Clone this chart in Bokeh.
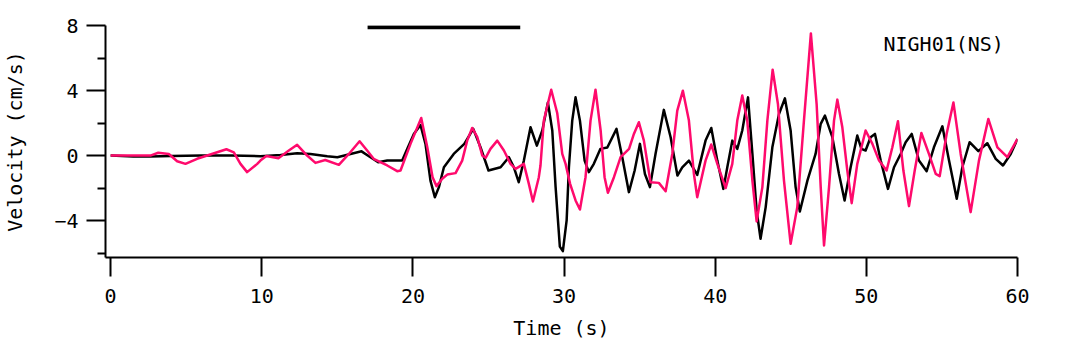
from bokeh.plotting import figure
from bokeh.models import Range1d, FixedTicker, Label
from bokeh.embed import file_html
from bokeh.resources import INLINE

# ---- data ----
black_t = [0, 1.5, 2.6, 4, 6, 8, 9.91, 11.24, 12.34, 13.22, 14.33, 15.0, 15.87, 16.6, 17.19,
           17.7, 18.3, 19.29, 19.62, 20.06, 20.5, 20.83, 21.16, 21.45, 21.72, 22.05, 22.7,
           23.4, 23.99, 24.47, 25.0, 25.8, 26.35, 26.68, 27.0, 27.34, 27.78, 28.2, 28.56,
           28.93, 29.22, 29.44, 29.72, 29.92, 30.17, 30.32, 30.54, 30.76, 31.05, 31.36,
           31.64, 31.97, 32.4, 32.86, 33.47, 33.85, 34.29, 34.67, 35.02, 35.35, 35.68,
           36.05, 36.6, 37.05, 37.5, 37.82, 38.26, 38.81, 39.36, 39.74, 40.14, 40.54, 40.8,
           41.13, 41.46, 41.79, 42.17, 42.46, 42.74, 43.0, 43.34, 43.78, 44.22, 44.61, 44.99,
           45.32, 45.6, 46.1, 46.64, 46.98, 47.26, 47.75, 48.19, 48.56, 48.96, 49.4, 49.67,
           49.95, 50.28, 50.57, 50.95, 51.43, 51.83, 52.27, 52.6, 53.0, 53.48, 53.99, 54.47,
           55.03, 55.47, 55.98, 56.35, 56.83, 57.41, 58.0, 58.56, 59.04, 59.55, 60]
black_v = [0, -0.05, -0.05, -0.02, 0, 0, -0.04, 0.04, 0.14, 0.1, -0.04, -0.1, 0.1, 0.26, -0.1,
           -0.41, -0.31, -0.31, 0.41, 1.33, 1.88, 0.72, -1.54, -2.56, -1.94, -0.72, 0.1,
           0.72, 1.64, 0.51, -0.92, -0.72, -0.1, -0.72, -1.64, -0.31, 1.74, 0.61, 1.54,
           3.27, 1.54, -1.94, -5.6, -5.88, -3.99, -0.72, 2.15, 3.58, 2.15, -0.31,
           -1.02, -0.51, 0.41, 0.5, 1.64, -0.1, -2.25, -0.92, 0.72, -1.13, -1.94,
           0.1, 2.81, 1.13, -1.23, -0.72, -0.31, -1.19, 0.92, 1.70, -0.31, -2.05, -0.72,
           0.92, 0.41, 1.54, 3.58, 0.1, -3.38, -5.12, -3.17, 0.51, 2.56, 3.52, 1.54,
           -1.94, -3.44, -1.54, 0.1, 1.95, 2.46, 1.13, -1.13, -2.76, -0.72, 1.23, 0.41,
           0.31, 1.13, 1.33, -0.31, -2.05, -0.72, 0.1, 0.82, 1.33, -0.31, -0.96, 0.51,
           1.80, -0.31, -2.66, -0.72, 0.82, 0.27, 0.76, -0.2, -0.61, 0.1, 1.02]

pink_t = [0, 2.63, 3.15, 3.85, 4.4, 4.95, 5.72, 6.39, 7.05, 7.66, 8.15, 8.59, 9.03, 9.7, 9.91,
          10.3, 11.1, 11.79, 12.34, 13.0, 13.55, 14.2, 15.1, 15.76, 16.47, 16.97, 17.4, 18.3,
          18.96, 19.18, 19.84, 20.55, 20.95, 21.3, 21.56, 21.94, 22.27, 22.82, 23.26, 23.59,
          23.92, 24.26, 24.59, 24.81, 25.13, 25.58, 26.02, 26.46, 26.79, 27.34, 27.67, 27.94,
          28.33, 28.44, 28.66, 29.15, 29.55, 29.88, 30.1, 30.4, 30.76, 31.05, 31.42, 31.75,
          32.08, 32.42, 32.68, 32.9, 33.3, 33.74, 34.3, 34.62, 34.95, 35.28, 35.72, 36.27,
          36.72, 37.16, 37.49, 37.86, 38.26, 38.59, 38.81, 39.36, 39.74, 40.14, 40.69, 41.13,
          41.46, 41.79, 42.12, 42.46, 42.74, 43.12, 43.45, 43.8, 44.15, 44.55, 44.99, 45.43,
          45.87, 46.33, 46.71, 46.98, 47.2, 47.53, 47.86, 48.08, 48.41, 48.74, 49.03, 49.4,
          49.95, 50.4, 50.84, 51.34, 51.72, 52.09, 52.45, 52.82, 53.2, 53.64, 54.14, 54.59,
          54.85, 55.31, 55.76, 56.24, 56.9, 57.45, 58.07, 58.67, 59.33, 60]
pink_v = [0, 0, 0.17, 0.1, -0.35, -0.51, -0.2, 0, 0.2, 0.39, 0.2, -0.51, -1.02, -0.51, -0.31,
          -0.03, -0.16, 0.31, 0.66, 0, -0.45, -0.27, -0.57, 0.1, 0.88, 0.31, -0.2, -0.61,
          -0.96, -0.92, 0.72, 2.31, 0.51, -1.33, -1.88, -1.43, -1.17, -1.08, -0.31, 0.92,
          1.70, 1.13, 0, -0.14, 0.41, 0.92, 0.31, -0.51, -0.82, -0.51, -1.74, -2.83,
          -1.33, -0.61, 2.15, 4.05, 2.6, 0.1, -0.51, -1.74, -2.76, -3.32, -1.33, 2.15,
          4.05, 1.54, -1.33, -2.29, -1.33, -0.1, 0.41, 1.33, 2.05, 0.92, -1.64, -1.68,
          -2.19, 0.1, 2.76, 3.99, 2.15, -1.13, -2.56, -0.31, 0.68, -0.51, -2.0, -0.51,
          2.15, 3.69, 2.15, -1.54, -4.05, -1.94, 2.15, 5.28, 3.17, -1.54, -5.43, -3.17,
          2.15, 7.51, 3.17, -1.94, -5.53, -1.94, 2.15, 3.44, 1.74, -0.92, -2.93, -0.51,
          1.54, 0.72, -0.31, -0.92, 0.51, 2.11, -0.92, -3.11, -0.92, 1.39, 0.1, -1.13,
          -1.27, 1.33, 3.27, 0.1, -3.48, -0.31, 2.25, 0.51, -0.1, 1.02]

window_t = [17.0, 27.1]
window_v = [7.9, 7.9]

x_ticks = [0, 10, 20, 30, 40, 50, 60]
y_ticks = [-4, 0, 4, 8]
y_minor = [-6, -2, 2, 6]
y_labels = {-4: "\u22124", 0: "0", 4: "4", 8: "8"}
station = "NIGH01(NS)"

FONT = "DejaVu Sans Mono"
FS = "20px"

p = figure(frame_width=912, frame_height=232, output_backend="svg", toolbar_location=None,
           x_range=Range1d(-0.34, 60), y_range=Range1d(-6.27, 8),
           min_border_left=97, min_border_top=25, min_border_right=40, min_border_bottom=60)
p.outline_line_color = None
p.grid.visible = False
p.background_fill_color = "white"
p.border_fill_color = "white"

p.line(black_t, black_v, line_color="black", line_width=2.5, line_join="round")
p.line(pink_t, pink_v, line_color="#FF0A6C", line_width=2.5, line_join="round")
p.line(window_t, window_v, line_color="black", line_width=4)

xa = p.xaxis[0]
xa.ticker = FixedTicker(ticks=x_ticks)
xa.axis_label = "Time (s)"
ya = p.yaxis[0]
ya.ticker = FixedTicker(ticks=y_ticks, minor_ticks=y_minor)
ya.major_label_overrides = y_labels
ya.axis_label = "Velocity (cm/s)"

for ax in (xa, ya):
    ax.axis_line_width = 2
    ax.axis_line_color = "black"
    ax.major_tick_line_width = 2
    ax.minor_tick_line_width = 2
    ax.major_tick_out = 19
    ax.major_tick_in = 0
    ax.minor_tick_out = 8
    ax.minor_tick_in = 0
    ax.major_label_text_font = FONT
    ax.major_label_text_font_size = FS
    ax.major_label_text_color = "black"
    ax.axis_label_text_font = FONT
    ax.axis_label_text_font_size = FS
    ax.axis_label_text_font_style = "normal"
    ax.axis_label_text_color = "black"

xa.minor_tick_line_color = None
xa.major_label_standoff = 12
xa.axis_label_standoff = 10
ya.major_label_standoff = 8
ya.axis_label_standoff = 24

p.add_layout(Label(x=59.1, y=6.88, text=station, text_align="right", text_baseline="middle",
                   text_font=FONT, text_font_size=FS, text_color="black"))

open("out.html", "w").write(file_html(p, INLINE))
